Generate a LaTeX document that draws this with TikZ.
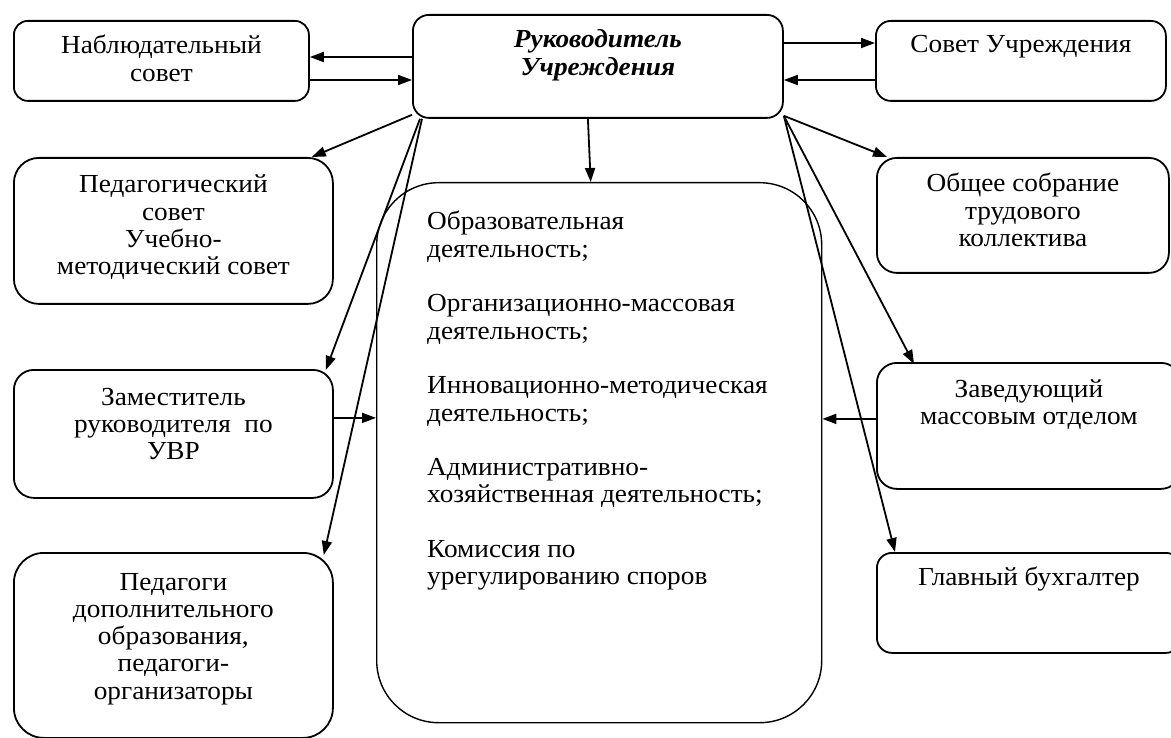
\documentclass[tikz,border=0pt]{standalone}
\usepackage{fontspec}
\setmainfont[FakeStretch=1.05]{Liberation Serif}
\usetikzlibrary{arrows.meta}
\begin{document}
\begin{tikzpicture}[x=1pt,y=-1pt,
  box/.style={draw, line width=1.8pt, rounded corners=#1, anchor=north west, inner sep=0pt},
  box/.default=15pt,
  txt/.style={inner sep=0pt, anchor=base, font=\fontsize{26}{27.3}\selectfont},
  arr/.style={line width=1.8pt, -{Triangle[length=14pt,width=10pt]}}]
\useasboundingbox (0,0) rectangle (1171,738);
\begin{scope}
\clip (0,0) rectangle (1171,738);
% boxes
\node[box=14pt, minimum width=295pt, minimum height=80pt] (nab) at (13,20) {};
\node[box=16pt, minimum width=370pt, minimum height=103pt] (ruk) at (412,14) {};
\node[box=15pt, minimum width=290pt, minimum height=80pt] (sov) at (875,20) {};
\node[box=25pt, minimum width=319pt, minimum height=146pt] (ped) at (13,157) {};
\node[box=20pt, minimum width=292pt, minimum height=115pt] (obs) at (876,157) {};
\node[box=62pt, line width=1.4pt, minimum width=445pt, minimum height=540pt] (cen) at (376,182) {};
\node[box=20pt, minimum width=319pt, minimum height=128pt] (zam) at (13,369) {};
\node[box=20pt, minimum width=304pt, minimum height=126pt] (zav) at (876,362) {};
\node[box=15pt, minimum width=304pt, minimum height=100pt] (gla) at (876,552) {};
\node[box=30pt, minimum width=319pt, minimum height=185pt] (pdo) at (13,552) {};
\end{scope}
% texts
\node[txt] (nabT) at ([yshift=-34pt]nab.north) {\parbox[t]{290pt}{\centering Наблюдательный\\совет}};
\node[txt] (rukT) at ([yshift=-34pt]ruk.north) {\parbox[t]{360pt}{\centering\bfseries\itshape Руководитель\\Учреждения}};
\node[txt] (sovT) at ([yshift=-33pt]sov.north) {\parbox[t]{290pt}{\centering Совет Учреждения}};
\node[txt] (pedT) at ([yshift=-36pt]ped.north) {\parbox[t]{310pt}{\centering Педагогический\\совет\\Учебно-\\методический совет}};
\node[txt] (obsT) at ([yshift=-35pt]obs.north) {\parbox[t]{290pt}{\centering Общее собрание\\трудового\\коллектива}};
\node[txt] (zamT) at ([yshift=-36pt]zam.north) {\parbox[t]{310pt}{\centering Заместитель\\руководителя\ \ по\\УВР}};
\node[txt] (zavT) at ([yshift=-35pt]zav.north) {\parbox[t]{300pt}{\centering Заведующий\\массовым отделом}};
\node[txt] (glaT) at ([yshift=-33pt]gla.north) {\parbox[t]{300pt}{\centering Главный бухгалтер}};
\node[txt] (pdoT) at ([yshift=-38pt]pdo.north) {\parbox[t]{310pt}{\centering Педагоги\\дополнительного\\образования,\\педагоги-\\организаторы}};
\node[txt, anchor=base west] (cenT) at ([xshift=51pt,yshift=-48pt]cen.north west) {\parbox[t]{390pt}{\raggedright
Образовательная\\деятельность;\\[27.3pt]
Организационно-массовая\\деятельность;\\[27.3pt]
Инновационно-методическая\\деятельность;\\[27.3pt]
Административно-\\хозяйственная деятельность;\\[27.3pt]
Комиссия по\\урегулированию споров}};
% connectors
\draw[arr] ([yshift=-43pt]ruk.north west) -- ([yshift=-37pt]nab.north east);
\draw[arr] ([yshift=-60pt]nab.north east) -- ([yshift=-66pt]ruk.north west);
\draw[arr] ([yshift=-29pt]ruk.north east) -- ([yshift=-23pt]sov.north east -| sov.west);
\draw[arr] ([yshift=-60pt]sov.north west) -- ([yshift=-66pt]ruk.north east);
\draw[arr] ([yshift=4pt]ruk.south west) -- ([xshift=-22pt]ped.north east);
\draw[arr] ([xshift=-10pt]ruk.south) -- ([xshift=-8.5pt]cen.north);
\draw[arr] ([xshift=8pt]ruk.south west) -- ([xshift=-8pt,yshift=-1pt]zam.north east);
\draw[arr] ([xshift=10pt]ruk.south west) -- ([xshift=-10pt,yshift=-3pt]pdo.north east);
\path ([yshift=16pt]zam.east) coordinate (z1);
\draw[arr] (z1) -- (z1 -| cen.west);
\draw[arr] ([yshift=3pt]ruk.south east) -- ([xshift=11pt]obs.north west);
\draw[arr] ([yshift=3pt]ruk.south east) -- ([xshift=38pt,yshift=-2pt]zav.north west);
\draw[arr] ([yshift=3pt]ruk.south east) -- ([xshift=19pt]gla.north west);
\path ([yshift=7pt]zav.west) coordinate (z2);
\draw[arr] (z2) -- (z2 -| cen.east);
\end{tikzpicture}
\end{document}
